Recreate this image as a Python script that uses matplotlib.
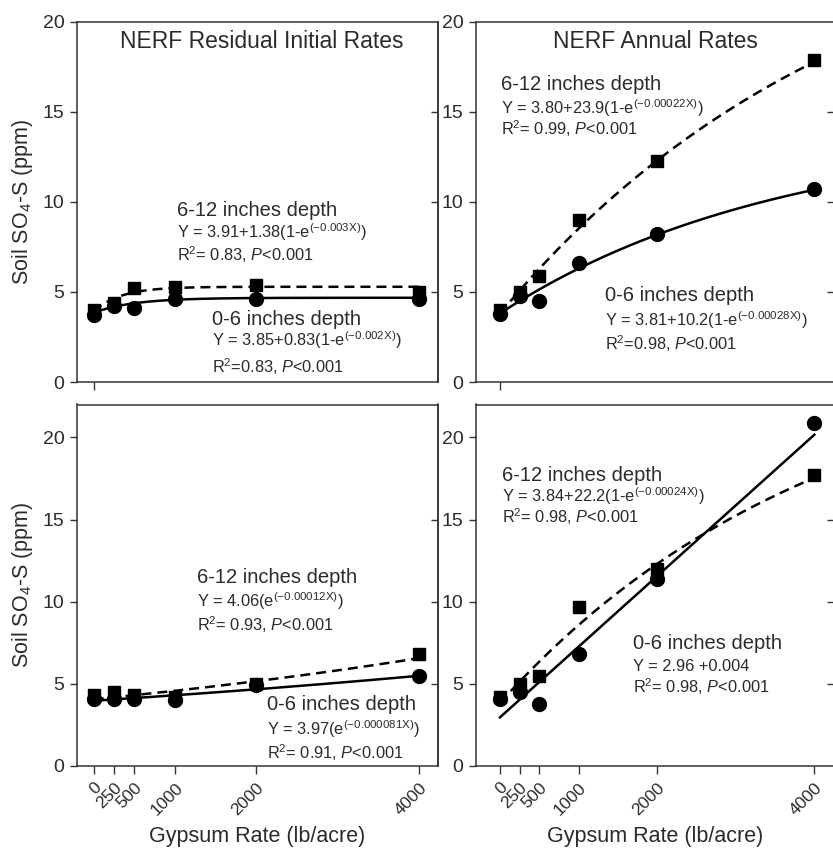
import numpy as np
import matplotlib
matplotlib.use("Agg")
import matplotlib.pyplot as plt
from matplotlib.ticker import NullFormatter

plt.rcParams["font.family"] = ["Liberation Sans", "DejaVu Sans"]
plt.rcParams["mathtext.fontset"] = "custom"
plt.rcParams["mathtext.rm"] = "Liberation Sans"
plt.rcParams["mathtext.it"] = "Liberation Sans:italic"

RATES       = [0, 250, 500, 1000, 2000, 4000]
RATE_LABELS = ["0", "250", "500", "1000", "2000", "4000"]

# soil SO4-S means (ppm)
RES_0_6  = [3.75, 4.2, 4.1, 4.6, 4.6, 4.6]
RES_6_12 = [4.0, 4.4, 5.2, 5.3, 5.4, 5.0]
ANN_0_6  = [3.8, 4.8, 4.5, 6.6, 8.2, 10.7]
ANN_6_12 = [4.0, 5.0, 5.9, 9.0, 12.3, 17.9]
BL_0_6   = [4.1, 4.1, 4.1, 4.0, 4.9, 5.5]
BL_6_12  = [4.3, 4.5, 4.3, 4.2, 5.0, 6.8]
BR_0_6   = [4.1, 4.5, 3.8, 6.8, 11.4, 20.9]
BR_6_12  = [4.2, 5.0, 5.5, 9.7, 12.0, 17.7]

# fit coefficients as printed on the panels
RES_FIT_0_6  = ("rise", 3.85, 0.83, 0.002)
RES_FIT_6_12 = ("rise", 3.91, 1.38, 0.003)
ANN_FIT_0_6  = ("rise", 3.81, 10.2, 0.00028)
ANN_FIT_6_12 = ("rise", 3.80, 23.9, 0.00022)
BL_FIT_0_6   = ("exp", 3.97, 0.000081)
BL_FIT_6_12  = ("exp", 4.06, 0.00012)
BR_FIT_0_6   = ("lin", 2.96, 0.0043)
BR_FIT_6_12  = ("rise", 3.84, 22.2, 0.00024)

TXT = "#2b2b2b"
AX_COL = "#333333"


def fit_curve(fit, x):
    kind = fit[0]
    if kind == "rise":
        a, b, k = fit[1:]
        return a + b * (1 - np.exp(-k * x))
    if kind == "exp":
        a, k = fit[1:]
        return a * np.exp(k * x)
    a, k = fit[1:]
    return a + k * x


def draw_panel(ax, y06, y612, f06, f612):
    xx = np.linspace(0, 4000, 300)
    ax.plot(xx, fit_curve(f612, xx), color="black", lw=1.8,
            ls=(0, (4.0, 2.4)), zorder=2)
    ax.plot(xx, fit_curve(f06, xx), color="black", lw=1.8, zorder=2)
    ax.plot(RATES, y612, ls="none", marker="s", ms=9, color="black", zorder=3)
    ax.plot(RATES, y06, ls="none", marker="o", ms=10, color="black", zorder=3)


def sup(s):
    return r"$^{\mathregular{" + s + "}}$"


def annotate(ax, x, ys, depth, eq, r2):
    ax.text(x, ys[0], depth, fontsize=14.5, color=TXT, va="center", ha="left")
    ax.text(x, ys[1], eq, fontsize=11.8, color=TXT, va="center", ha="left")
    ax.text(x, ys[2], r2, fontsize=11.8, color=TXT, va="center", ha="left")


def style_axes(ax, xlim, ylim, bottom_row):
    ax.set_xlim(*xlim)
    ax.set_ylim(*ylim)
    for sp in ax.spines.values():
        sp.set_color(AX_COL)
        sp.set_linewidth(1.1)
    ax.set_yticks([0, 5, 10, 15, 20])
    ax.tick_params(axis="y", direction="out", length=5, width=1,
                   color=AX_COL, labelsize=14, labelcolor=TXT, pad=4)
    if bottom_row:
        ax.set_xticks(RATES)
        ax.set_xticklabels(RATE_LABELS, rotation=45, ha="right",
                           rotation_mode="anchor", fontsize=12.5, color=TXT)
        ax.tick_params(axis="x", direction="out", length=6, width=1,
                       color=AX_COL, pad=4)
        ax.set_xlabel("Gypsum Rate (lb/acre)", fontsize=15.5, color=TXT)
        ax.xaxis.set_label_coords(0.5, -0.165)
    else:
        ax.set_xticks([0])
        ax.xaxis.set_major_formatter(NullFormatter())
        ax.tick_params(axis="x", direction="out", length=6, width=1,
                       color=AX_COL)
    # short inward ticks on the right spine
    tw = ax.twinx()
    tw.set_ylim(*ylim)
    tw.set_yticks([5, 10, 15])
    tw.tick_params(axis="y", direction="in", length=5, width=1,
                   color=AX_COL, labelright=False)
    tw.spines["right"].set_color(AX_COL)
    tw.spines["right"].set_linewidth(1.1)
    for s in ("left", "top", "bottom"):
        tw.spines[s].set_visible(False)


def main():
    fig = plt.figure(figsize=(8.33, 8.5), dpi=100)
    W, H = 833.0, 850.0

    def add(l, t, r, b):
        return fig.add_axes([l / W, 1 - b / H, (r - l) / W, (b - t) / H])

    ax_tl = add(77, 22, 438, 382)
    ax_tr = add(476, 22, 834, 382)
    ax_bl = add(77, 404.5, 438, 766)
    ax_br = add(476, 404.5, 834, 766)

    # top left: residual initial rates
    draw_panel(ax_tl, RES_0_6, RES_6_12, RES_FIT_0_6, RES_FIT_6_12)
    style_axes(ax_tl, (-205, 4235), (0, 20), False)
    ax_tl.text(0.512, 0.945, "NERF Residual Initial Rates", transform=ax_tl.transAxes,
               fontsize=16.5, color=TXT, ha="center", va="center")
    annotate(ax_tl, 1020, (9.55, 8.35, 7.05), "6-12 inches depth",
             "Y = 3.91+1.38(1-e" + sup("(-0.003X)") + ")",
             r"R$^2$= 0.83, $\it{P}$<0.001")
    annotate(ax_tl, 1450, (3.45, 2.3, 0.85), "0-6 inches depth",
             "Y = 3.85+0.83(1-e" + sup("(-0.002X)") + ")",
             r"R$^2$=0.83, $\it{P}$<0.001")

    # top right: annual rates
    draw_panel(ax_tr, ANN_0_6, ANN_6_12, ANN_FIT_0_6, ANN_FIT_6_12)
    style_axes(ax_tr, (-305, 4250), (0, 20), False)
    ax_tr.text(0.5, 0.945, "NERF Annual Rates", transform=ax_tr.transAxes,
               fontsize=16.5, color=TXT, ha="center", va="center")
    annotate(ax_tr, 10, (16.5, 15.2, 14.1), "6-12 inches depth",
             "Y = 3.80+23.9(1-e" + sup("(-0.00022X)") + ")",
             r"R$^2$= 0.99, $\it{P}$<0.001")
    annotate(ax_tr, 1335, (4.83, 3.44, 2.15), "0-6 inches depth",
             "Y = 3.81+10.2(1-e" + sup("(-0.00028X)") + ")",
             r"R$^2$=0.98, $\it{P}$<0.001")

    # bottom left
    draw_panel(ax_bl, BL_0_6, BL_6_12, BL_FIT_0_6, BL_FIT_6_12)
    style_axes(ax_bl, (-205, 4235), (0, 22), True)
    annotate(ax_bl, 1267, (11.47, 10.05, 8.63), "6-12 inches depth",
             "Y = 4.06(e" + sup("(-0.00012X)") + ")",
             r"R$^2$= 0.93, $\it{P}$<0.001")
    annotate(ax_bl, 2128, (3.77, 2.25, 0.83), "0-6 inches depth",
             "Y = 3.97(e" + sup("(-0.000081X)") + ")",
             r"R$^2$= 0.91, $\it{P}$<0.001")

    # bottom right
    draw_panel(ax_br, BR_0_6, BR_6_12, BR_FIT_0_6, BR_FIT_6_12)
    style_axes(ax_br, (-305, 4250), (0, 22), True)
    annotate(ax_br, 30, (17.7, 16.4, 15.2), "6-12 inches depth",
             "Y = 3.84+22.2(1-e" + sup("(-0.00024X)") + ")",
             r"R$^2$= 0.98, $\it{P}$<0.001")
    annotate(ax_br, 1696, (7.46, 6.08, 4.82), "0-6 inches depth",
             "Y = 2.96 +0.004", r"R$^2$= 0.98, $\it{P}$<0.001")

    for y_mid in ((22 + 382) / 2, (404.5 + 766) / 2):
        fig.text(23 / W, 1 - y_mid / H, r"Soil SO$_4$-S (ppm)", rotation=90,
                 fontsize=15.5, color=TXT, ha="center", va="center")

    fig.savefig("out.png", dpi=100)
    plt.close(fig)


if __name__ == "__main__":
    main()
